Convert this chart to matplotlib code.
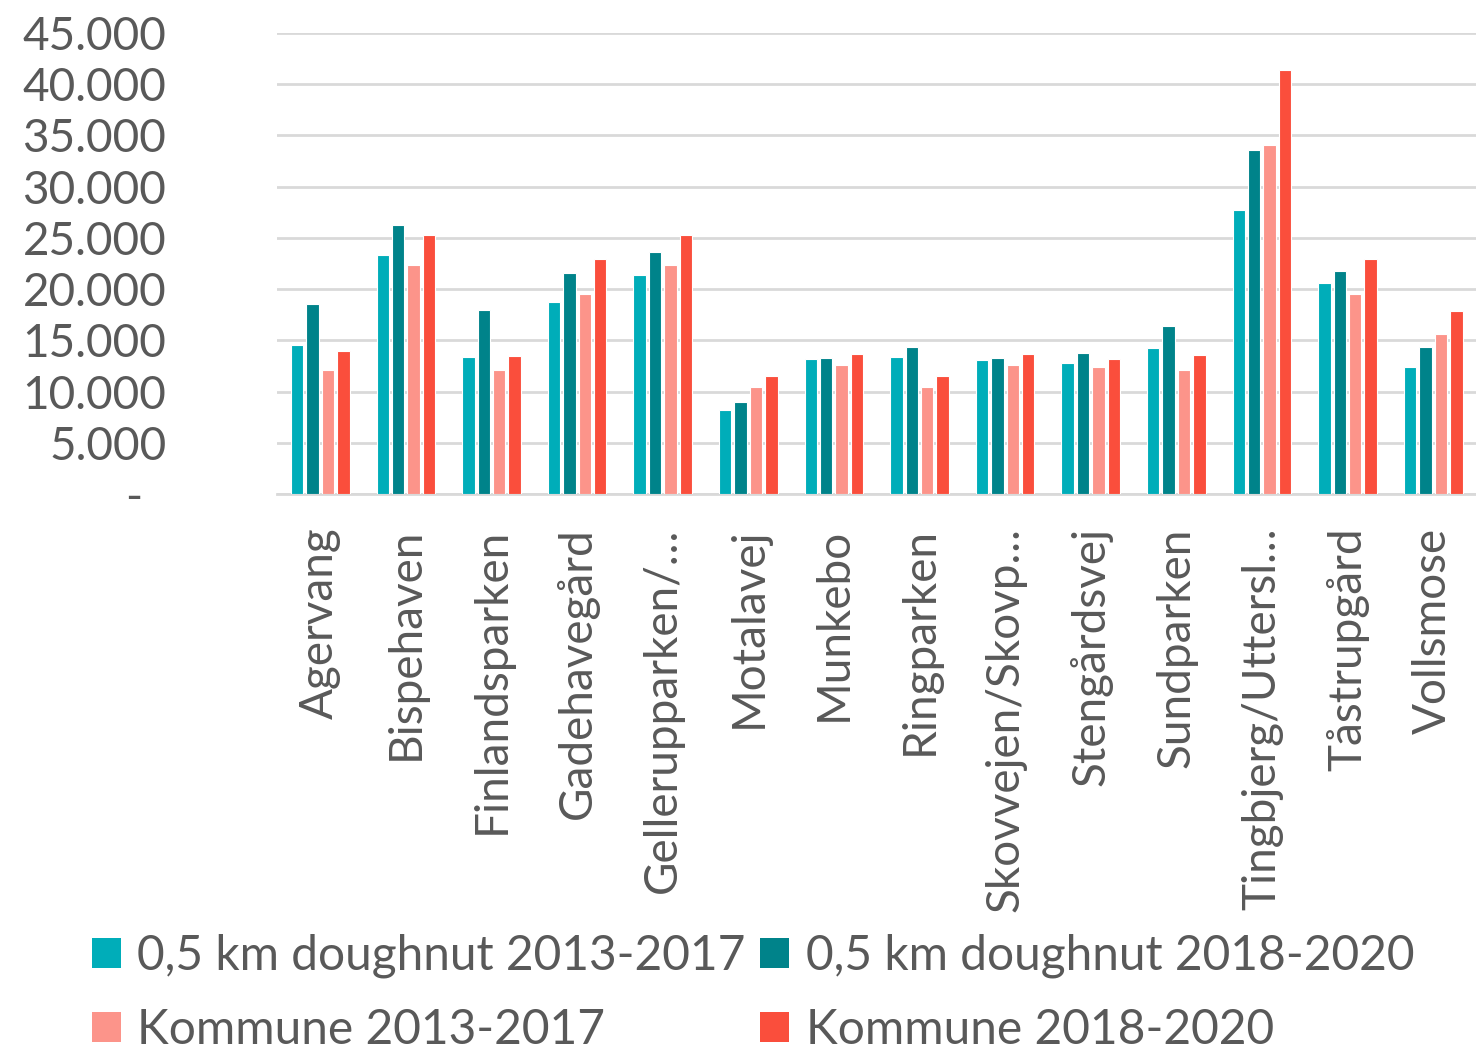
import numpy as np
import matplotlib.pyplot as plt
from matplotlib.patches import Patch
from matplotlib.ticker import FuncFormatter

plt.rcParams['font.family'] = ['Lato', 'DejaVu Sans']

# areas (labels truncated as in the source chart)
areas = ["Agervang", "Bispehaven", "Finlandsparken", "Gadehavegård",
         "Gellerupparken/…", "Motalavej", "Munkebo", "Ringparken",
         "Skovvejen/Skovp…", "Stengårdsvej", "Sundparken",
         "Tingbjerg/Uttersl…", "Tåstrupgård", "Vollsmose"]

# series values
donut_1317 = [14500, 23300, 13400, 18700, 21400, 8200, 13200, 13400, 13100, 12800, 14300, 27700, 20600, 12400]
donut_1820 = [18500, 26300, 18000, 21600, 23600, 9000, 13300, 14400, 13300, 13800, 16400, 33600, 21800, 14400]
komm_1317 = [12100, 22400, 12100, 19500, 22400, 10400, 12600, 10400, 12600, 12400, 12100, 34100, 19500, 15600]
komm_1820 = [14000, 25300, 13500, 22900, 25300, 11500, 13700, 11500, 13700, 13200, 13600, 41400, 22900, 17900]

series = [donut_1317, donut_1820, komm_1317, komm_1820]
names = ["0,5 km doughnut 2013-2017", "0,5 km doughnut 2018-2020",
         "Kommune 2013-2017", "Kommune 2018-2020"]
colors = ["#00adb9", "#00838a", "#fc948a", "#fa4e3c"]

fig = plt.figure(figsize=(14.76, 10.57), dpi=100)
ax = fig.add_axes([0.188, 0.5326, 0.812, 0.4362])

x = np.arange(len(areas))
w = 0.145
step = 0.18
for i, (vals, c) in enumerate(zip(series, colors)):
    ax.bar(x + (i - 1.5) * step, vals, width=w, color=c,
           edgecolor='white', linewidth=0.8, zorder=3)

ax.set_xlim(-0.5, len(areas) - 0.5)
ax.set_ylim(0, 45000)
ax.set_yticks(np.arange(0, 45001, 5000))
ax.yaxis.set_major_formatter(FuncFormatter(
    lambda v, p: "-  " if v == 0 else f"{int(v):,}".replace(",", ".")))
ax.grid(axis='y', color='#d9d9d9', linewidth=2, zorder=0)
for s in ['top', 'right', 'left']:
    ax.spines[s].set_visible(False)
ax.spines['bottom'].set_color('#d9d9d9')
ax.spines['bottom'].set_linewidth(2)

ax.tick_params(axis='y', length=0, pad=80, labelsize=33, labelcolor='#595959')
ax.tick_params(axis='x', length=0, pad=24, labelsize=33, labelcolor='#595959')
ax.set_xticks(x)
ax.set_xticklabels(areas, rotation=90, ha='center', va='top')

handles = [Patch(facecolor=c, label=n) for c, n in zip(colors, names)]
order = [0, 2, 1, 3]
fig.legend([handles[i] for i in order], [names[i] for i in order],
           ncol=2, loc='lower left', bbox_to_anchor=(0.033, -0.036),
           frameon=False, fontsize=34.5, labelcolor='#595959',
           handlelength=0.6, handleheight=0.6, handletextpad=0.35,
           columnspacing=0.3, labelspacing=0.62)

fig.savefig("out.png", dpi=100)
